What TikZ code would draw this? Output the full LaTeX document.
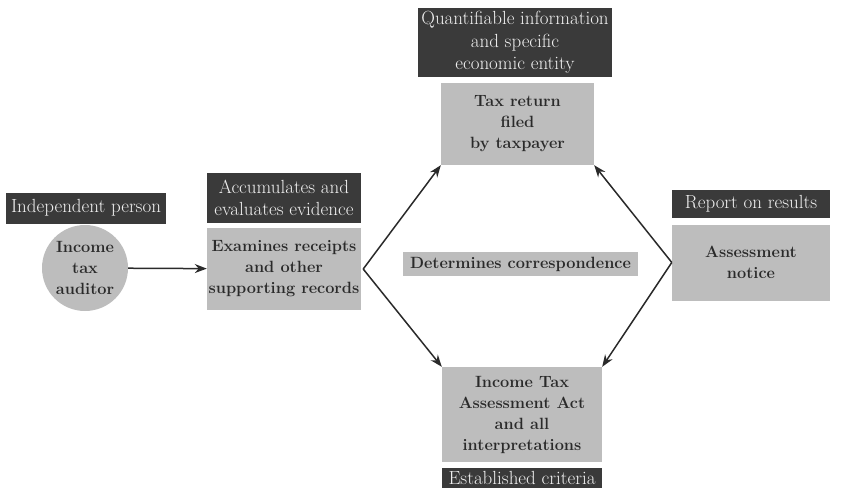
\documentclass[tikz,border=0pt]{standalone}
\usepackage{tikz}
\usetikzlibrary{positioning,arrows.meta}
\definecolor{darkbox}{HTML}{3A3A3A}
\definecolor{lightbox}{HTML}{BDBDBD}
\definecolor{boxtext}{HTML}{2A2A2A}

\begin{document}
\begin{tikzpicture}[x=1pt,y=-1pt,
    dark/.style={fill=darkbox, text=white!94!black, align=center, inner sep=0pt,
      font=\fontsize{19}{22.5}\selectfont},
    light/.style={fill=lightbox, text=boxtext, align=center, inner sep=0pt,
      font=\bfseries\fontsize{16.3}{21}\selectfont},
    link/.style={draw=boxtext, line width=1.5pt, -{Stealth[length=12pt,width=9pt]}}]
    \useasboundingbox (0,0) rectangle (853,501);

    % auditor side
    \node [dark, minimum width=160pt, minimum height=31pt] (indep) at (86,208) {Independent person};
    \node [light, circle, minimum size=86pt] (auditor) at (85,268) {Income\\tax\\auditor};
    \node [dark, minimum width=154pt, minimum height=50pt] (accum) at (284,198) {Accumulates and\\evaluates evidence};
    \node [light, minimum width=154pt, minimum height=82pt] (examines) at (284,269) {Examines receipts\\and other\\supporting records};

    % information and criteria
    \node [dark, minimum width=194pt, minimum height=69pt] (quant) at (515,42.5) {Quantifiable information\\and specific\\economic entity};
    \node [light, minimum width=153pt, minimum height=82pt] (taxret) at (517.5,124) {Tax return\\filed\\by taxpayer};
    \node [light, minimum width=235pt, minimum height=24pt] (determ) at (520.5,264) {Determines correspondence};
    \node [light, minimum width=160pt, minimum height=95pt] (act) at (522,414.5) {Income Tax\\Assessment Act\\and all\\interpretations};
    \node [dark, minimum width=160pt, minimum height=20pt] (estab) at (522,478) {Established criteria};

    % report
    \node [dark, minimum width=158pt, minimum height=28pt] (report) at (751,204) {Report on results};
    \node [light, minimum width=158pt, minimum height=76pt] (assess) at (751,262.5) {Assessment\\notice};

    \coordinate (lv) at ([xshift=2pt]examines.east);
    \draw [link] (auditor) -- (examines);
    \draw [link] (lv) -- (taxret.south west);
    \draw [link] (lv) -- (act.north west);
    \draw [link] (assess.west) -- (taxret.south east);
    \draw [link] (assess.west) -- (act.north east);
\end{tikzpicture}
\end{document}
